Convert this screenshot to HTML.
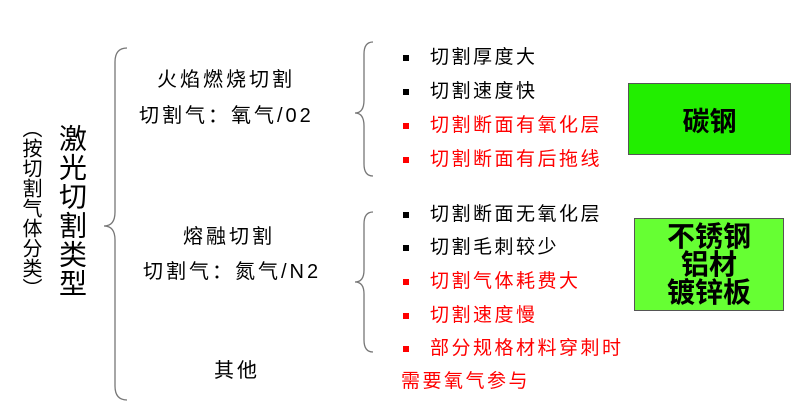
<!DOCTYPE html>
<html><head><meta charset="utf-8"><style>
body{margin:0;width:800px;height:408px;background:#fff;position:relative;overflow:hidden;font-family:"Liberation Sans","Noto Sans CJK SC",sans-serif;}
.t{position:absolute;white-space:nowrap;font-size:19px;line-height:20px;color:#000;}
.l{font-size:20px;letter-spacing:3px;}
.r{color:#f00;}
.b{position:absolute;width:6px;height:6px;background:#000;}
.b.r{background:#f00;}
.v{position:absolute;writing-mode:vertical-rl;white-space:nowrap;}
.s{letter-spacing:2.5px;}
</style></head><body>
<svg width="800" height="408" style="position:absolute;left:0;top:0" fill="none" stroke="#777" stroke-width="1.3">
<path d="M127 48 Q115 48 115 62 L115 212 Q115 226 104 226 Q115 226 115 240 L115 386 Q115 400 127 400"/>
<path d="M373 42 Q364 42 364 54 L364 100 Q364 113 355 113 Q364 113 364 126 L364 164 Q364 176 373 176"/>
<path d="M373 212 Q364 212 364 224 L364 270 Q364 282 355 282 Q364 282 364 294 L364 340 Q364 352 373 352"/>
</svg>
<div class="v" style="left:18px;top:118px;font-size:20px;line-height:24px;">（按切割气体分类）</div>
<div class="v" style="left:56px;top:124px;font-size:28px;line-height:30px;letter-spacing:1px;">激光切割类型</div>
<div class="t l" style="left:157px;top:70px;">火焰燃烧切割</div>
<div class="t l" style="left:139px;top:106px;">切割气：氧气/02</div>
<div class="t l" style="left:183px;top:227px;">熔融切割</div>
<div class="t l" style="left:143px;top:262px;">切割气：氮气/N2</div>
<div class="t l" style="left:214px;top:361px;">其他</div>

<div class="b" style="left:403px;top:55px"></div><div class="t s" style="left:430px;top:48px">切割厚度大</div>
<div class="b" style="left:403px;top:89px"></div><div class="t s" style="left:430px;top:82px">切割速度快</div>
<div class="b r" style="left:403px;top:123px"></div><div class="t r s" style="left:430px;top:116px">切割断面有氧化层</div>
<div class="b r" style="left:403px;top:157px"></div><div class="t r s" style="left:430px;top:150px">切割断面有后拖线</div>

<div class="b" style="left:403px;top:212px"></div><div class="t s" style="left:430px;top:205px">切割断面无氧化层</div>
<div class="b" style="left:403px;top:245px"></div><div class="t s" style="left:430px;top:238px">切割毛刺较少</div>
<div class="b r" style="left:403px;top:279px"></div><div class="t r s" style="left:430px;top:272px">切割气体耗费大</div>
<div class="b r" style="left:403px;top:313px"></div><div class="t r s" style="left:430px;top:306px">切割速度慢</div>
<div class="b r" style="left:403px;top:346px"></div><div class="t r s" style="left:430px;top:339px">部分规格材料穿刺时</div>
<div class="t r s" style="left:401px;top:372px">需要氧气参与</div>

<div style="position:absolute;left:628px;top:83px;width:161px;height:70px;background:#22ee00;border:1px solid #555;display:flex;align-items:center;justify-content:center;font-size:27px;font-weight:bold;">碳钢</div>
<div style="position:absolute;left:634px;top:218px;width:148px;height:91px;background:#66ff33;border:1px solid #555;display:flex;align-items:center;justify-content:center;text-align:center;font-size:28px;font-weight:bold;line-height:28px;">不锈钢<br>铝材<br>镀锌板</div>
</body></html>
